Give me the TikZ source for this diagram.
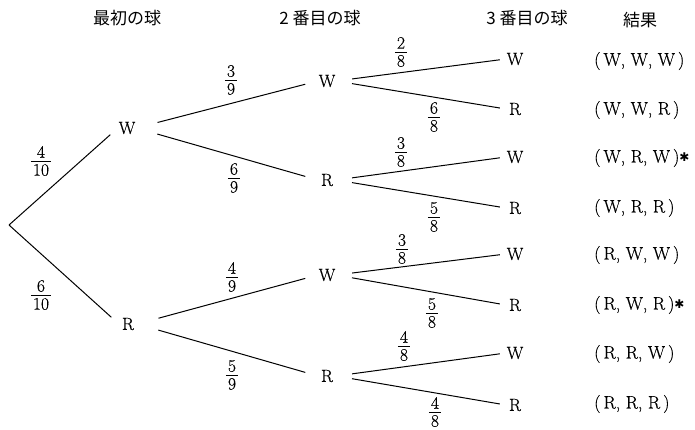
\documentclass[tikz,border=0pt]{standalone}
\usepackage{fontspec}
\setmainfont{Latin Modern Roman}[FakeBold=0.4]
\newfontfamily\jpfont{Noto Sans CJK JP}
\newfontfamily\dvfont{DejaVu Sans}
\newcommand\fr[2]{{\renewcommand\arraystretch{0}\begin{tabular}{@{\hspace{2pt}}c@{\hspace{2pt}}}\rule[-3pt]{0pt}{12pt}#1\\\hline\rule{0pt}{14.5pt}#2\end{tabular}}}
\newcommand\mystar{{\dvfont\fontsize{12}{12}\selectfont\raisebox{1pt}{✱}}}
\begin{document}
\begin{tikzpicture}[x=1pt,y=-1pt,
  lbl/.style={font=\fontsize{17.5}{20}\selectfont, inner sep=0pt, minimum width=18pt, minimum height=12pt},
  frc/.style={font=\fontsize{17.5}{20}\selectfont, inner sep=0pt},
  hdr/.style={font=\jpfont\fontsize{17}{20}\selectfont, inner sep=0pt},
  res/.style={font=\fontsize{18}{20}\selectfont, inner sep=0pt, anchor=west},
  br/.style={line width=1pt},
  ga/.style={br, shorten >=10pt},
  gb/.style={br, shorten <=22pt, shorten >=13pt},
  gc/.style={br, shorten <=16pt, shorten >=6pt}]
\useasboundingbox (0,0) rectangle (695,430);
% headers
\node[hdr] (h1) at (127,18) {最初の球};
\node[hdr] (h2) at (320,18) {2 番目の球};
\node[hdr] (h3) at (527,18) {3 番目の球};
\node[hdr] (h4) at (640,20) {結果};
% root
\coordinate (O) at (9,225);
% level 1
\node[lbl] (W) at (127,128) {W};
\node[lbl] (R) at (128,324) {R};
% level 2
\node[lbl] (WW) at (327,81) {W};
\node[lbl] (WR) at (327,180) {R};
\node[lbl] (RW) at (327,275) {W};
\node[lbl] (RR) at (327,376) {R};
% level 3
\node[lbl] (WWW) at (515,59) {W};
\node[lbl] (WWR) at (515,109) {R};
\node[lbl] (WRW) at (515,157) {W};
\node[lbl] (WRR) at (515,208) {R};
\node[lbl] (RWW) at (515,254) {W};
\node[lbl] (RWR) at (515,305) {R};
\node[lbl] (RRW) at (515,353) {W};
\node[lbl] (RRR) at (515,405) {R};
% connectors
\draw[ga] (O) -- (W.west);
\draw[ga] (O) -- (R.west);
\draw[gb] (W.east) -- (WW.west);
\draw[gb] (W.east) -- (WR.west);
\draw[gb] (R.east) -- (RW.west);
\draw[gb] (R.east) -- (RR.west);
\draw[gc] (WW.east) -- (WWW.west);
\draw[gc] (WW.east) -- (WWR.west);
\draw[gc] (WR.east) -- (WRW.west);
\draw[gc] (WR.east) -- (WRR.west);
\draw[gc] (RW.east) -- (RWW.west);
\draw[gc] (RW.east) -- (RWR.west);
\draw[gc] (RR.east) -- (RRW.west);
\draw[gc] (RR.east) -- (RRR.west);
% fractions
\node[frc] (p1) at (41,161) {\fr{4}{10}};
\node[frc] (p2) at (41,295) {\fr{6}{10}};
\node[frc] (p3) at (231,80) {\fr{3}{9}};
\node[frc] (p4) at (234,178) {\fr{6}{9}};
\node[frc] (p5) at (232,277) {\fr{4}{9}};
\node[frc] (p6) at (232,375) {\fr{5}{9}};
\node[frc] (p7) at (401,52) {\fr{2}{8}};
\node[frc] (p8) at (434,117) {\fr{6}{8}};
\node[frc] (p9) at (401,152) {\fr{3}{8}};
\node[frc] (p10) at (434,217) {\fr{5}{8}};
\node[frc] (p11) at (402,249) {\fr{3}{8}};
\node[frc] (p12) at (432,313) {\fr{5}{8}};
\node[frc] (p13) at (404,346) {\fr{4}{8}};
\node[frc] (p14) at (435,412) {\fr{4}{8}};
% results
\node[res] (r1) at (594,61) {(\,W, W, W\,)};
\node[res] (r2) at (594,110) {(\,W, W, R\,)};
\node[res] (r3) at (594,158) {(\,W, R, W\,)\mystar};
\node[res] (r4) at (594,208) {(\,W, R, R\,)};
\node[res] (r5) at (594,255) {(\,R, W, W\,)};
\node[res] (r6) at (594,305) {(\,R, W, R\,)\mystar};
\node[res] (r7) at (594,354) {(\,R, R, W\,)};
\node[res] (r8) at (594,404) {(\,R, R, R\,)};
\end{tikzpicture}
\end{document}
